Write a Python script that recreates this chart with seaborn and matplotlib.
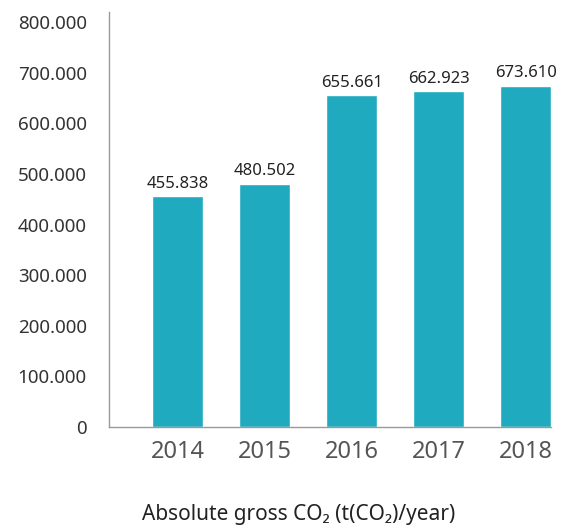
import numpy as np
import pandas as pd
import matplotlib
matplotlib.use("Agg")
import matplotlib.pyplot as plt
import seaborn as sns

# Data
years = ["2014", "2015", "2016", "2017", "2018"]
emissions = [455838, 480502, 655661, 662923, 673610]
y_ticks = [0, 100000, 200000, 300000, 400000, 500000, 600000, 700000, 800000]

bar_color = "#20aabf"

sns.set_theme(style="white")
plt.rcParams["font.family"] = ["Noto Sans", "DejaVu Sans"]

df = pd.DataFrame({"year": years, "co2": emissions})


def dotted(v):
    # thousands separator as "."
    return f"{v:,}".replace(",", ".")


fig = plt.figure(figsize=(5.66, 5.26), dpi=100)
ax = fig.add_axes([0.1926, 0.188, 0.7809, 0.7895])

sns.barplot(data=df, x="year", y="co2", color=bar_color, saturation=1,
            width=0.59, ax=ax)

# value labels above bars
for i, v in enumerate(emissions):
    ax.text(i, v + 9000, dotted(v), ha="center", va="bottom",
            fontsize=12, color="#222222")

ax.set_xlim(-0.787, 4.29)
ax.set_ylim(0, 820000)
ax.set_yticks(y_ticks)
ax.set_yticklabels([dotted(t) for t in y_ticks], fontsize=13.5, color="#333333")
ax.tick_params(axis="y", length=0, pad=16)
ax.tick_params(axis="x", length=0, pad=9, labelsize=17, labelcolor="#555555")
ax.set_xlabel("")
ax.set_ylabel("")

for side in ["top", "right"]:
    ax.spines[side].set_visible(False)
for side in ["left", "bottom"]:
    ax.spines[side].set_color("#999999")
    ax.spines[side].set_linewidth(1.0)

fig.text(0.527, 0.021, "Absolute gross CO₂ (t(CO₂)/year)", ha="center",
         va="center", fontsize=15, color="#222222")

fig.savefig("out.png", dpi=100)
